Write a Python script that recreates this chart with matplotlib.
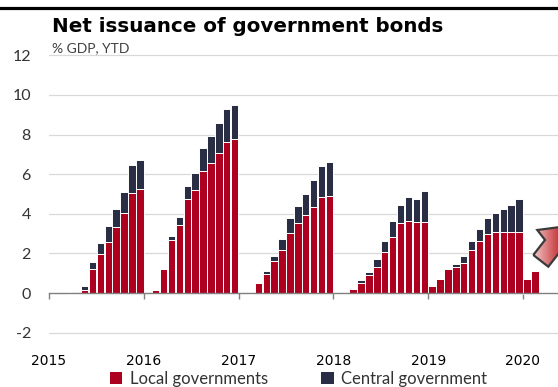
import matplotlib
matplotlib.use('Agg')
import matplotlib.pyplot as plt
import numpy as np
from matplotlib.patches import Polygon, Patch
from matplotlib.colors import LinearSegmentedColormap
from matplotlib.lines import Line2D

# ---- data (% GDP, year-to-date, monthly Jan 2015 .. Feb 2020) ----
year_labels = ['2015', '2016', '2017', '2018', '2019', '2020']
local_gov = [
    0.00, 0.00, 0.00, 0.00, 0.15, 1.21, 1.95, 2.56, 3.32, 4.02, 5.07, 5.27,   # 2015
    0.03, 0.15, 1.21, 2.68, 3.43, 4.73, 5.19, 6.18, 6.55, 7.09, 7.61, 7.76,   # 2016
    0.03, 0.03, 0.52, 0.94, 1.60, 2.15, 3.05, 3.55, 3.92, 4.33, 4.86, 4.92,   # 2017
    0.03, 0.03, 0.20, 0.52, 0.89, 1.33, 2.05, 2.84, 3.52, 3.65, 3.57, 3.60,   # 2018
    0.36, 0.72, 1.22, 1.30, 1.50, 2.17, 2.63, 2.96, 3.06, 3.10, 3.06, 3.06,   # 2019
    0.72, 1.13,                                                               # 2020
]
central_gov = [
    0.00, -0.07, 0.00, 0.05, 0.20, 0.36, 0.59, 0.81, 0.94, 1.10, 1.41, 1.45,
    0.00, 0.00, 0.00, 0.20, 0.42, 0.67, 0.87, 1.16, 1.40, 1.50, 1.68, 1.73,
    0.00, 0.00, 0.00, 0.17, 0.29, 0.56, 0.75, 0.86, 1.10, 1.38, 1.55, 1.68,
    0.00, 0.00, 0.00, 0.15, 0.17, 0.40, 0.58, 0.80, 0.94, 1.20, 1.18, 1.55,
    0.00, 0.00, 0.00, 0.16, 0.37, 0.47, 0.62, 0.84, 1.00, 1.12, 1.40, 1.69,
    -0.05, -0.07,
]
y_ticks = [-2, 0, 2, 4, 6, 8, 10, 12]

RED = '#AD0020'
NAVY = '#2A2E44'
GRID = '#d9d9d9'
TXT = '#333333'
FONT = 'Lato'

W, H = 558, 387
fig = plt.figure(figsize=(W / 100, H / 100), dpi=100)

# axes placement in pixels
ax_left, ax_right = 49, 558
y_top_px, y_bot_px = 53.4, 336.6
ax = fig.add_axes([ax_left / W, 1 - y_bot_px / H, (ax_right - ax_left) / W,
                   (y_bot_px - y_top_px) / H])

loc = np.array(local_gov)
cen = np.array(central_gov)
x = np.arange(len(loc)) + 0.5
cen_bottom = np.where(cen >= 0, np.maximum(loc, 0), 0)

ax.bar(x, loc, width=0.94, color=RED, edgecolor='white', linewidth=0.7, zorder=3)
ax.bar(x, cen, bottom=cen_bottom, width=0.94, color=NAVY, edgecolor='white',
       linewidth=0.7, zorder=3)

months_per_px = 12 / 94.8
ax.set_xlim(0, (ax_right - ax_left) * months_per_px)
ax.set_ylim(-2.2, 12.1)

ax.set_yticks(y_ticks)
ax.set_yticklabels([str(v) for v in y_ticks], fontfamily=FONT, fontsize=11.5, color=TXT)
for v in y_ticks:
    if v != 0:
        ax.axhline(v, color=GRID, linewidth=0.9, zorder=1)
ax.tick_params(axis='y', length=0, pad=13)

ax.set_xticks([12 * i for i in range(len(year_labels))])
ax.set_xticklabels(year_labels, fontfamily=FONT, fontsize=11.5, color=TXT)
ax.tick_params(axis='x', length=4, width=1, color='#808080', pad=40)

for s in ['top', 'right', 'left']:
    ax.spines[s].set_visible(False)
ax.spines['bottom'].set_position(('data', 0))
ax.spines['bottom'].set_color('#808080')
ax.spines['bottom'].set_linewidth(1.0)
ax.spines['bottom'].set_zorder(4)
ax.set_facecolor('none')

# title / subtitle / top rule
fig.add_artist(Line2D([0, 1], [1 - 8 / H, 1 - 8 / H], color='black', linewidth=2.3))
fig.text(52 / W, 1 - 32 / H, 'Net issuance of government bonds', fontfamily='DejaVu Sans',
         fontweight='heavy', fontsize=14.3, color='black', ha='left', va='baseline')
fig.text(52 / W, 1 - 48 / H, '% GDP, YTD', fontfamily=FONT, fontsize=10,
         color='#404040', ha='left', va='center')

# legend
handles = [Patch(facecolor=RED, edgecolor='none', label='Local governments'),
           Patch(facecolor=NAVY, edgecolor='none', label='Central government')]
leg = fig.legend(handles=handles, loc='center', bbox_to_anchor=(0.535, 1 - 379 / H),
                 ncol=2, frameon=False, handlelength=0.75, handleheight=0.75,
                 handletextpad=0.45, columnspacing=3.2,
                 prop={'family': FONT, 'size': 12})
for t in leg.get_texts():
    t.set_color(TXT)

# decorative arrow at right edge (cut by figure border)
ov = fig.add_axes([0, 0, 1, 1], zorder=10)
ov.set_xlim(0, W)
ov.set_ylim(H, 0)
ov.axis('off')
arrow_pts = [(533.3, 255), (545, 240), (537.3, 230), (568, 226), (571.5, 256.7),
             (560, 251.7), (548.3, 266.7)]
poly = Polygon(arrow_pts, closed=True, facecolor='none', edgecolor='#3a3a3a',
               linewidth=1.6, zorder=12, joinstyle='miter')
ov.add_patch(poly)
cmap = LinearSegmentedColormap.from_list('g', ['#f4d0d0', '#c0282c'])
grad = np.linspace(0, 1, 100).reshape(1, -1)
im = ov.imshow(grad, cmap=cmap, extent=[532, 562, 268, 224], aspect='auto', zorder=11)
clip = Polygon(arrow_pts, closed=True, transform=ov.transData)
im.set_clip_path(clip)

fig.savefig('out.png', dpi=100)
